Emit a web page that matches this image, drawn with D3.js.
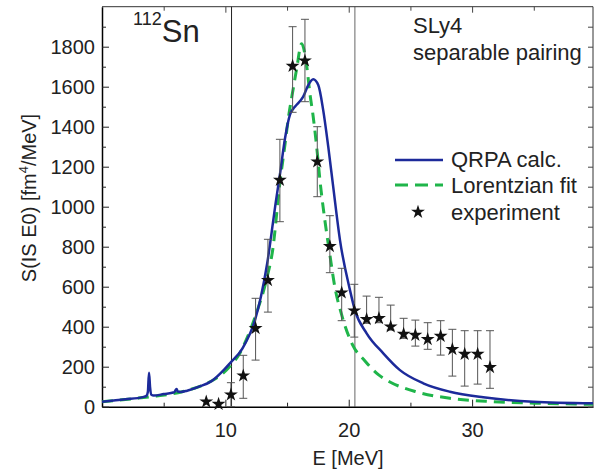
<!DOCTYPE html>
<html>
<head>
<meta charset="utf-8">
<script src="https://cdn.jsdelivr.net/npm/d3@7"></script>
<style>
  html, body { margin: 0; padding: 0; background: #fff; }
  svg { display: block; font-family: "Liberation Sans", Arial, sans-serif; }
</style>
</head>
<body>
<svg id="chart" width="605" height="475"></svg>
<script>
// ---- data ----
const qrpaE = [0, 1.9, 3.3, 3.6, 3.72, 3.81, 3.9, 4.0, 4.2, 5.0, 5.85, 5.98, 6.05, 6.15, 6.4, 6.9, 7.86, 8.88, 9.9, 10.37, 11.39, 12.4, 12.88, 13.4, 13.88, 14.08, 14.42, 14.83, 15.24, 15.5, 15.78, 16.31, 16.72, 17.12, 17.53, 17.93, 18.34, 18.74, 19.29, 20.1, 20.5, 21.45, 22.8, 24.15, 26.04, 28.2, 30.9, 34.95, 39.8];
const qrpaS = [25, 37, 48, 54, 75, 170, 95, 60, 56, 63, 72, 84, 88, 76, 74, 80, 100, 128, 185, 217, 292, 433, 550, 720, 930, 1020, 1160, 1340, 1460, 1490, 1510, 1550, 1608, 1637, 1608, 1483, 1300, 1100, 833, 583, 483, 367, 267, 183, 117, 75, 47, 25, 17];

const lorE = [0, 2.5, 4.4, 6.5, 8.5, 9.5, 10.45, 11.1, 11.7, 12.5, 13.35, 13.85, 14.4, 14.83, 15.1, 15.5, 15.78, 16.18, 16.58, 16.85, 17.12, 17.45, 17.67, 18.07, 18.47, 18.9, 19.4, 20.3, 21.3, 22.4, 23.3, 25.45, 28.2, 31.7, 35.5, 39.8];
const lorS = [25, 40, 53, 75, 117, 152, 208, 260, 335, 465, 640, 790, 1110, 1310, 1440, 1590, 1690, 1815, 1710, 1567, 1450, 1270, 1130, 930, 760, 590, 465, 310, 230, 160, 125, 75, 42, 25, 17, 12];

const expE  = [8.45, 9.45, 10.45, 11.45, 12.45, 13.45, 14.42, 15.45, 16.45, 17.45, 18.47, 19.43, 20.45, 21.45, 22.45, 23.4, 24.45, 25.4, 26.4, 27.45, 28.4, 29.4, 30.45, 31.45];
const expS  = [25, 13, 60, 155, 392, 632, 1133, 1703, 1730, 1225, 802, 570, 480, 437, 442, 400, 363, 358, 337, 353, 287, 263, 263, 197];
const expLo = [null, null, 0, 42, 233, 473, 925, 1472, 1525, 1050, 670, 430, 348, 417, 420, 383, 342, 303, 287, 258, 153, 103, 113, 92];
const expHi = [null, null, 120, 257, 542, 837, 1337, 1900, 1937, 1400, 955, 692, 612, 553, 547, 508, 442, 433, 420, 430, 387, 380, 380, 380];

const yTickVals = [0, 200, 400, 600, 800, 1000, 1200, 1400, 1600, 1800];
const xTickVals = [10, 20, 30];
const xMinorVals = [5, 15, 25, 35];
const yMinorVals = [100, 300, 500, 700, 900, 1100, 1300, 1500, 1700, 1900];
const refLinesE = [10.5, 20.5];

const seriesNames = ["QRPA calc.", "Lorentzian fit", "experiment"];
const colors = { qrpa: "#1c2a9a", lor: "#1fb54a", exp: "#111111" };

// ---- layout ----
const svg = d3.select("#chart");
const L = 102, R = 593, T = 6.7, B = 406.7;
const x = d3.scaleLinear().domain([0, 39.8]).range([L, R]);
const y = d3.scaleLinear().domain([0, 2000]).range([B, T]);
const fmt = d3.format("d");

// reference vertical lines
svg.selectAll("line.ref").data(refLinesE).enter().append("line")
  .attr("x1", d => x(d)).attr("x2", d => x(d))
  .attr("y1", T).attr("y2", B)
  .attr("stroke", (d, i) => i === 0 ? "#222" : "#666").attr("stroke-width", 1);

// frame top/right
svg.append("line").attr("x1", L).attr("x2", R).attr("y1", T).attr("y2", T).attr("stroke", "#333").attr("stroke-width", 1);
svg.append("line").attr("x1", R).attr("x2", R).attr("y1", T).attr("y2", B).attr("stroke", "#333").attr("stroke-width", 1);

// bottom axis (inward ticks)
const xAxis = svg.append("g").attr("transform", `translate(0,${B})`)
  .call(d3.axisBottom(x).tickValues(xTickVals).tickFormat(fmt).tickSizeInner(-7).tickSizeOuter(0).tickPadding(16));
xAxis.select(".domain").attr("stroke", "#000").attr("stroke-width", 1.5);
xAxis.selectAll(".tick line").attr("stroke", "#222");
xAxis.selectAll("text").attr("font-size", 20).attr("fill", "#222").attr("font-family", "Liberation Sans, Arial, sans-serif");
svg.append("g").attr("transform", `translate(0,${B})`)
  .call(d3.axisBottom(x).tickValues(xMinorVals).tickSizeInner(-4).tickSizeOuter(0).tickFormat(""))
  .call(g => g.select(".domain").remove())
  .selectAll(".tick line").attr("stroke", "#222");

// top axis ticks (inward)
svg.append("g").attr("transform", `translate(0,${T})`)
  .call(d3.axisTop(x).tickValues(xTickVals).tickSizeInner(-6).tickSizeOuter(0).tickFormat(""))
  .call(g => g.select(".domain").remove())
  .selectAll(".tick line").attr("stroke", "#444");
svg.append("g").attr("transform", `translate(0,${T})`)
  .call(d3.axisTop(x).tickValues(xMinorVals).tickSizeInner(-4).tickSizeOuter(0).tickFormat(""))
  .call(g => g.select(".domain").remove())
  .selectAll(".tick line").attr("stroke", "#444");

// left axis
const yAxis = svg.append("g").attr("transform", `translate(${L},0)`)
  .call(d3.axisLeft(y).tickValues(yTickVals).tickFormat(fmt).tickSizeInner(-7).tickSizeOuter(0).tickPadding(7));
yAxis.select(".domain").attr("stroke", "#000").attr("stroke-width", 1.5);
yAxis.selectAll(".tick line").attr("stroke", "#222");
yAxis.selectAll("text").attr("font-size", 20).attr("fill", "#222").attr("font-family", "Liberation Sans, Arial, sans-serif");
svg.append("g").attr("transform", `translate(${L},0)`)
  .call(d3.axisLeft(y).tickValues(yMinorVals).tickSizeInner(-4).tickSizeOuter(0).tickFormat(""))
  .call(g => g.select(".domain").remove())
  .selectAll(".tick line").attr("stroke", "#222");

// right axis ticks (inward)
svg.append("g").attr("transform", `translate(${R},0)`)
  .call(d3.axisRight(y).tickValues(yTickVals.concat(yMinorVals)).tickSizeInner(-5).tickSizeOuter(0).tickFormat(""))
  .call(g => g.select(".domain").remove())
  .selectAll(".tick line").attr("stroke", "#444");

// curves
const qrpaData = qrpaE.map((e, i) => [e, qrpaS[i]]);
const lorData = lorE.map((e, i) => [e, lorS[i]]);
const line = d3.line().x(d => x(d[0])).y(d => y(d[1])).curve(d3.curveMonotoneX);

svg.append("path").datum(lorData).attr("d", line)
  .attr("fill", "none").attr("stroke", colors.lor).attr("stroke-width", 3)
  .attr("stroke-dasharray", "11,7");
svg.append("path").datum(qrpaData).attr("d", line)
  .attr("fill", "none").attr("stroke", colors.qrpa).attr("stroke-width", 2.5);

// experiment error bars & stars
const expData = expE.map((e, i) => ({ e, s: expS[i], lo: expLo[i], hi: expHi[i] }));
const eb = svg.append("g").attr("stroke", "#555").attr("stroke-width", 1);
expData.filter(d => d.lo !== null).forEach(d => {
  eb.append("line").attr("x1", x(d.e)).attr("x2", x(d.e)).attr("y1", y(d.lo)).attr("y2", y(d.hi));
  eb.append("line").attr("x1", x(d.e) - 4).attr("x2", x(d.e) + 4).attr("y1", y(d.hi)).attr("y2", y(d.hi));
  eb.append("line").attr("x1", x(d.e) - 4).attr("x2", x(d.e) + 4).attr("y1", y(d.lo)).attr("y2", y(d.lo));
});
const star = d3.symbol().type(d3.symbolStar).size(60);
svg.append("g").selectAll("path").data(expData).enter().append("path")
  .attr("d", star)
  .attr("transform", d => `translate(${x(d.e)},${y(d.s)})`)
  .attr("fill", colors.exp);

// axis titles
svg.append("text").attr("x", 348).attr("y", 465).attr("text-anchor", "middle")
  .attr("font-size", 20).attr("fill", "#222").text("E [MeV]");
const yt = svg.append("text").attr("transform", "translate(36,198) rotate(-90)")
  .attr("text-anchor", "middle").attr("font-size", 20).attr("fill", "#222");
yt.append("tspan").text("S(IS E0) [fm");
yt.append("tspan").attr("font-size", 13).attr("dy", -8).text("4");
yt.append("tspan").attr("dy", 8).text("/MeV]");

// annotations
const nuc = svg.append("text").attr("x", 133).attr("y", 42).attr("fill", "#222");
nuc.append("tspan").attr("font-size", 18).attr("dy", -17).text("112");
nuc.append("tspan").attr("font-size", 31).attr("dy", 17).text("Sn");
svg.append("text").attr("x", 413).attr("y", 33).attr("font-size", 22).attr("fill", "#222").text("SLy4");
svg.append("text").attr("x", 413).attr("y", 60).attr("font-size", 22).attr("fill", "#222").text("separable pairing");

// legend
const lg = svg.append("g");
lg.append("line").attr("x1", 395).attr("x2", 443).attr("y1", 160).attr("y2", 160)
  .attr("stroke", colors.qrpa).attr("stroke-width", 2.5);
lg.append("line").attr("x1", 395).attr("x2", 443).attr("y1", 185).attr("y2", 185)
  .attr("stroke", colors.lor).attr("stroke-width", 3).attr("stroke-dasharray", "13,7");
lg.append("path").attr("d", star).attr("transform", "translate(418,212)").attr("fill", colors.exp);
[167, 193, 220].forEach((yy, i) => {
  lg.append("text").attr("x", 451).attr("y", yy).attr("font-size", 22).attr("fill", "#222").text(seriesNames[i]);
});
</script>
</body>
</html>
